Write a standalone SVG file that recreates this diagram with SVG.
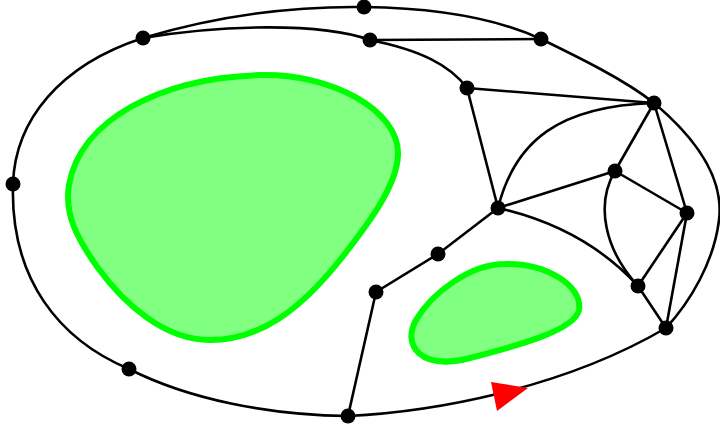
<svg xmlns="http://www.w3.org/2000/svg" width="720" height="431" viewBox="0 0 720 431">
<style>
.e{fill:none;stroke:#000;stroke-width:2.6}
.n{fill:#000}
.r{fill:#80ff80;stroke:#00ff00;stroke-width:6}
</style>
<rect width="720" height="431" fill="#fff"/>
<g id="regions">
<path id="blob1" class="r" d="M260,75 C330,73 400,110 398,155 C397,185 370,222 340,260 C300,310 260,340 210,340 C165,340 125,305 98,268 C78,240 64,215 69,185 C80,120 160,78 260,75 Z"/>
<path id="blob2" class="r" d="M505,264 C545,263 583,285 579,310 C575,330 520,345 470,358 C420,371 402,345 416,320 C432,293 470,264 505,264 Z"/>
</g>
<g id="connectors">
<path class="e" d="M143,38 C220,15 290,6 364,7"/>
<path class="e" d="M364,7 C440,8 500,20 541,39 C580,58 625,80 654,103"/>
<path class="e" d="M654,103 C698,140 724,180 719,220 C714,262 690,302 666,328"/>
<path class="e" d="M143,38 C60,65 15,120 13,184"/>
<path class="e" d="M13,184 C10,280 60,340 129,369"/>
<path class="e" d="M129,369 C190,400 270,415 348,416"/>
<path class="e" d="M348,416 C430,412 560,390 666,328"/>
<path class="e" d="M143,38 C220,25 320,22 370,40"/>
<path class="e" d="M370,40 L541,39"/>
<path class="e" d="M370,40 C420,50 450,65 467,88"/>
<path class="e" d="M467,88 L654,103"/>
<path class="e" d="M467,88 L498,208"/>
<path class="e" d="M498,208 C515,140 560,106 654,103"/>
<path class="e" d="M498,208 L615,171"/>
<path class="e" d="M615,171 L654,103"/>
<path class="e" d="M615,171 L687,213"/>
<path class="e" d="M654,103 L687,213"/>
<path class="e" d="M615,171 C595,205 605,250 638,286"/>
<path class="e" d="M498,208 C560,222 605,250 638,286"/>
<path class="e" d="M687,213 L638,286"/>
<path class="e" d="M687,213 L666,328"/>
<path class="e" d="M638,286 L666,328"/>
<path class="e" d="M498,208 L438,254 L376,292 L348,416"/>
<polygon fill="#ff0000" points="491,382 528,388 497,411"/>
</g>
<g id="nodes">
<circle id="A" class="n" cx="364" cy="7" r="7.5"/>
<circle id="B" class="n" cx="143" cy="38" r="7.5"/>
<circle id="C" class="n" cx="370" cy="40" r="7.5"/>
<circle id="D" class="n" cx="541" cy="39" r="7.5"/>
<circle id="E" class="n" cx="467" cy="88" r="7.5"/>
<circle id="F" class="n" cx="654" cy="103" r="7.5"/>
<circle id="G" class="n" cx="615" cy="171" r="7.5"/>
<circle id="H" class="n" cx="498" cy="208" r="7.5"/>
<circle id="I" class="n" cx="687" cy="213" r="7.5"/>
<circle id="J" class="n" cx="438" cy="254" r="7.5"/>
<circle id="K" class="n" cx="376" cy="292" r="7.5"/>
<circle id="L" class="n" cx="638" cy="286" r="7.5"/>
<circle id="M" class="n" cx="666" cy="328" r="7.5"/>
<circle id="N" class="n" cx="13" cy="184" r="7.5"/>
<circle id="O" class="n" cx="129" cy="369" r="7.5"/>
<circle id="P" class="n" cx="348" cy="416" r="7.5"/>
</g>
</svg>
